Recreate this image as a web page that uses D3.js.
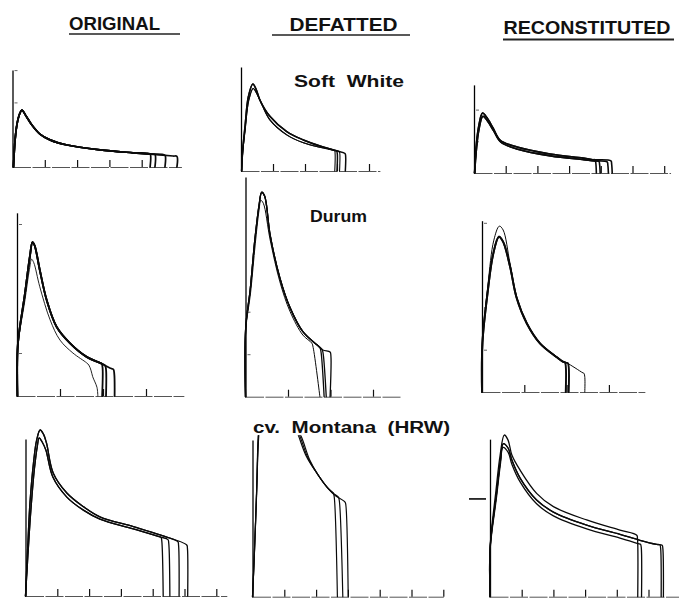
<!DOCTYPE html>
<html>
<head>
<meta charset="utf-8">
<script src="https://cdn.jsdelivr.net/npm/d3@7"></script>
<style>
  body { margin: 0; background: #fff; }
  svg { display: block; }
  text { font-family: "Liberation Sans", Arial, Helvetica, sans-serif; font-weight: bold; fill: #111; white-space: pre; }
</style>
</head>
<body>
<svg id="fig" width="679" height="598"></svg>
<script>
// column headers and flour classes
var columns = ["ORIGINAL", "DEFATTED", "RECONSTITUTED"]
var classes = ["Soft  White", "Durum", "cv.  Montana  (HRW)"]

// curves are [x, y] in grid units (1 unit = one tick division)
// drops are [x where the curve breaks, x where it reaches the baseline]

// Soft White
var swOrig = [[0.03,0],[0.08,0.84],[0.14,1.33],[0.22,1.64],[0.29,1.76],[0.42,1.58],[0.60,1.30],[0.85,1.02],
  [1.16,0.84],[1.69,0.68],[2.71,0.53],[3.73,0.44],[4.26,0.40],[4.97,0.34],[5.12,0.33]]
var swOrigDrops = [[4.26,4.26],[4.41,4.41],[4.72,4.72],[5.09,5.09]]

var swDefOuter = [[0.02,0],[0.05,0.6],[0.125,1.38],[0.23,2.32],[0.37,2.72],[0.47,2.56],[0.59,2.22],[0.91,1.70],
  [1.43,1.23],[1.95,0.97],[2.47,0.78],[2.98,0.63],[3.25,0.55],[3.3,0.54]]
var swDefInner = [[0.02,0],[0.05,0.55],[0.13,1.30],[0.24,2.2],[0.38,2.58],[0.5,2.41],[0.66,2.06],[0.91,1.59],
  [1.43,1.13],[1.95,0.88],[2.47,0.74],[2.98,0.63],[3.1,0.6]]
var swDefOuterDrops = [[2.99,3.0],[3.25,3.26]]
var swDefInnerDrops = [[2.92,2.93],[3.07,3.08]]

var swRecUpper = [[0.02,0],[0.06,0.73],[0.14,1.42],[0.27,1.89],[0.41,1.74],[0.6,1.42],[0.82,1.04],[1.36,0.82],
  [2.40,0.60],[3.44,0.47],[3.75,0.42],[4.35,0.38]]
var swRecLower = [[0.02,0],[0.07,0.68],[0.15,1.34],[0.28,1.79],[0.42,1.65],[0.62,1.33],[0.85,0.97],[1.38,0.75],
  [2.42,0.54],[3.46,0.42],[3.8,0.38],[4.35,0.34]]
var swRecUpperDrops = [[3.82,3.86],[4.32,4.36]]
var swRecLowerDrops = [[3.94,3.98],[4.20,4.24]]

// Durum
var duOrigThick = [[0.01,0],[0.02,1.2],[0.18,2.35],[0.30,3.25],[0.36,3.58],[0.41,3.5],[0.53,2.93],[0.69,2.23],
  [0.92,1.61],[1.23,1.23],[1.62,0.91],[1.93,0.77],[2.16,0.65],[2.3,0.6]]
var duOrigThin = [[0.01,0],[0.02,1.15],[0.18,2.2],[0.29,2.95],[0.34,3.18],[0.39,3.1],[0.53,2.54],[0.77,1.77],
  [1.0,1.30],[1.30,1.0],[1.62,0.77],[1.67,0.72],[1.72,0.6],[1.76,0.45],[1.86,0.2],[1.88,0]]
var duOrigThickDrops = [[1.97,1.98],[2.05,2.07],[2.24,2.27]]

var duDefA = [[0,0],[0.005,1.62],[0.11,2.51],[0.22,3.69],[0.32,4.51],[0.38,4.81],[0.45,4.72],[0.58,3.80],
  [0.81,2.79],[1.05,2.09],[1.35,1.53],[1.68,1.22],[1.82,1.10],[2.0,1.05]]
var duDefB = [[0,0],[0.005,1.55],[0.12,2.45],[0.23,3.6],[0.32,4.4],[0.36,4.62],[0.42,4.55],[0.58,3.69],
  [0.81,2.70],[1.05,2.0],[1.35,1.45],[1.56,1.26],[1.7,1.15]]
var duDefADrops = [[1.75,1.85],[1.80,1.90],[1.99,1.99]]
var duDefBDrops = [[1.56,1.75]]

var duRecOuter = [[0,0],[0.01,1.16],[0.14,2.53],[0.28,3.59],[0.41,3.92],[0.5,3.83],[0.66,3.05],[0.82,2.25],
  [1.06,1.63],[1.37,1.16],[1.77,0.83],[1.91,0.72],[2.0,0.69],[2.2,0.57],[2.39,0.45],[2.45,0.43]]
var duRecThick = [[0,0],[0.01,1.16],[0.14,2.41],[0.26,3.24],[0.40,3.67],[0.5,3.55],[0.66,2.98],[0.82,2.22],
  [1.06,1.62],[1.37,1.15],[1.77,0.82],[1.91,0.72],[2.0,0.69],[2.1,0.66]]
var duRecOuterDrops = [[2.41,2.43]]
var duRecThickDrops = [[1.96,1.98],[2.03,2.05]]

// cv. Montana (HRW)
var moOrigOuter = [[0,0],[0.1,2.2],[0.14,2.92],[0.25,4.17],[0.35,4.9],[0.46,5.22],[0.56,5.1],[0.66,4.81],
  [0.87,3.87],[1.30,3.24],[1.82,2.81],[2.34,2.49],[3.39,2.18],[4.23,1.92],[5.08,1.60],[5.15,1.58]]
var moOrigInner = [[0,0],[0.12,2.0],[0.18,2.85],[0.28,4.0],[0.37,4.7],[0.43,4.97],[0.52,4.85],[0.64,4.59],
  [0.86,3.74],[1.30,3.11],[1.82,2.70],[2.34,2.42],[3.39,2.11],[4.23,1.86],[4.86,1.64],[5.1,1.56]]
var moOrigInnerDrops = [[4.26,4.33],[4.48,4.54]]
var moOrigOuterDrops = [[4.79,4.83],[5.07,5.10]]

var moDefA = [[0,0],[0.05,1.15],[0.13,3.36],[0.18,5.05],[0.3,6.6],[0.45,7.1],[0.7,6.9],[1.1,6.0],[1.44,5.08],
  [1.70,4.40],[2.02,3.89],[2.33,3.46],[2.49,3.30],[2.6,3.2]]
var moDefB = [[0,0],[0.05,1.12],[0.13,3.3],[0.185,5.0],[0.31,6.5],[0.47,7.0],[0.72,6.8],[1.13,5.9],[1.49,5.05],
  [1.75,4.35],[2.05,3.85],[2.35,3.44],[2.55,3.25],[2.8,3.05]]
var moDefC = [[0,0],[0.05,1.1],[0.13,3.25],[0.19,4.95],[0.32,6.4],[0.48,6.9],[0.74,6.7],[1.16,5.8],[1.54,5.02],
  [1.80,4.3],[2.08,3.8],[2.38,3.40],[2.6,3.18],[2.95,2.95]]
var moDefADrops = [[2.54,2.67]]
var moDefBDrops = [[2.70,2.84]]
var moDefCDrops = [[2.91,3.01]]

var moRecA = [[0,0],[0.005,1.58],[0.19,3.36],[0.32,4.47],[0.45,5.10],[0.57,4.94],[0.69,4.47],[0.95,3.99],
  [1.47,3.26],[2.0,2.84],[3.05,2.42],[4.10,2.10],[4.63,1.94],[4.7,1.92]]
var moRecB = [[0,0],[0.005,1.55],[0.2,3.2],[0.33,4.3],[0.42,4.83],[0.57,4.69],[0.69,4.31],[0.95,3.74],
  [1.47,3.05],[2.0,2.67],[3.05,2.26],[4.10,1.97],[4.73,1.78],[5.26,1.65],[5.45,1.62]]
var moRecC = [[0,0],[0.005,1.5],[0.2,3.1],[0.33,4.2],[0.41,4.71],[0.57,4.56],[0.69,4.18],[0.95,3.62],
  [1.47,2.93],[2.0,2.55],[3.05,2.14],[4.10,1.85],[4.73,1.66],[5.26,1.53],[5.45,1.5]]
var moRecADrops = [[4.63,4.66]]
var moRecBDrops = [[5.36,5.40],[5.43,5.47]]
var moRecCDrops = [[4.75,4.78]]

// tick positions (grid units)
var ticks1to3 = [1, 2, 3]
var ticks1to4 = [1, 2, 3, 4]
var ticks1to6 = [1, 2, 3, 4, 5, 6]

// small chart frames: origin in page px, px per unit, extent in units
var panels = [
  {ox: 12.5, oy: 167, u: 32.3, xMax: 5.23, yMax: 3.0, xTicks: ticks1to4, yTicks: [2, 3],
   curves: [{pts: swOrig, drops: swOrigDrops, w: 1.7}]},
  {ox: 241, oy: 171, u: 32, xMax: 4.34, yMax: 3.25, xTicks: ticks1to4, yTicks: [],
   curves: [{pts: swDefOuter, drops: swDefOuterDrops, w: 1.5}, {pts: swDefInner, drops: swDefInnerDrops, w: 1.1}]},
  {ox: 474, oy: 173, u: 31.7, xMax: 6.2, yMax: 2.78, xTicks: ticks1to6, yTicks: [1, 2],
   curves: [{pts: swRecUpper, drops: swRecUpperDrops, w: 1.6}, {pts: swRecLower, drops: swRecLowerDrops, w: 1.6}]},

  {ox: 17, oy: 396, u: 43, xMax: 3.88, yMax: 4.26, xTicks: ticks1to3, yTicks: [1, 4],
   curves: [{pts: duOrigThick, drops: duOrigThickDrops, w: 1.8}, {pts: duOrigThin, w: 0.9}]},
  {ox: 245.5, oy: 396.7, u: 42.5, xMax: 3.64, yMax: 5.17, xTicks: ticks1to3, yTicks: [1, 2],
   curves: [{pts: duDefA, drops: duDefADrops, w: 1.3}, {pts: duDefB, drops: duDefBDrops, w: 1.0}]},
  {ox: 482, oy: 392, u: 42.3, xMax: 3.85, yMax: 4.05, xTicks: ticks1to3, yTicks: [1, 2, 4],
   curves: [{pts: duRecOuter, drops: duRecOuterDrops, w: 1.0}, {pts: duRecThick, drops: duRecThickDrops, w: 1.9}]},

  {ox: 25.5, oy: 596, u: 31.8, xMax: 6.33, yMax: 4.94, xTicks: ticks1to6, yTicks: [],
   curves: [{pts: moOrigOuter, drops: moOrigOuterDrops, w: 1.3}, {pts: moOrigInner, drops: moOrigInnerDrops, w: 1.3}]},
  {ox: 252.5, oy: 596.7, u: 31.8, xMax: 6.0, yMax: 4.93, xTicks: ticks1to6, yTicks: [], clipTop: 5.08,
   curves: [{pts: moDefA, drops: moDefADrops, w: 1.2}, {pts: moDefB, drops: moDefBDrops, w: 1.2},
            {pts: moDefC, drops: moDefCDrops, w: 1.2}]},
  {ox: 490, oy: 596.7, u: 31.7, xMax: 5.99, yMax: 4.97, xTicks: ticks1to6, yTicks: [], yTicksLeft: [3.1],
   curves: [{pts: moRecA, drops: moRecADrops, w: 1.3}, {pts: moRecB, drops: moRecBDrops, w: 1.3},
            {pts: moRecC, drops: moRecCDrops, w: 1.3}]}
]

var svg = d3.select("#fig")

// headers: [x, baseline, text width, underline x0, x1, underline y, underline width]
var headerPos = [[69, 30, 91, 69, 180, 34, 1.3], [289.5, 31, 108, 272, 410, 35, 1.3], [503.5, 34, 167, 503, 674, 39.5, 2]]
columns.forEach(function(c, i) {
  var h = headerPos[i]
  svg.append("text").attr("x", h[0]).attr("y", h[1]).attr("font-size", 18)
     .attr("textLength", h[2]).attr("lengthAdjust", "spacingAndGlyphs").text(c)
  svg.append("line").attr("x1", h[3]).attr("x2", h[4]).attr("y1", h[5]).attr("y2", h[5])
     .attr("stroke", "#222").attr("stroke-width", h[6])
})

var classPos = [[294, 87, 110, 17], [310, 222, 57, 17], [253, 433, 197, 16]]
classes.forEach(function(c, i) {
  var t = classPos[i]
  svg.append("text").attr("x", t[0]).attr("y", t[1]).attr("font-size", t[3])
     .attr("textLength", t[2]).attr("lengthAdjust", "spacingAndGlyphs").text(c)
})

function cutAt(pts, xt) {
  var out = []
  for (var i = 0; i < pts.length; i++) {
    if (pts[i][0] < xt || i == 0) { out.push(pts[i]); continue }
    var a = pts[i-1], b = pts[i]
    var t = (xt - a[0]) / (b[0] - a[0])
    out.push([xt, a[1] + t * (b[1] - a[1])])
    break
  }
  return out
}

function dropPath(pts, drop) {
  var p = cutAt(pts, drop[0])
  var top = p[p.length-1]
  p.push([top[0] + 0.02 + (drop[1] - drop[0]) * 0.06, top[1] - 0.1])
  p.push([drop[1], 0])
  return p
}

panels.forEach(function(p, i) {
  var g = svg.append("g").attr("class", "panel panel-" + i)
  var x = d3.scaleLinear().domain([0, p.xMax]).range([p.ox, p.ox + p.xMax * p.u])
  var y = d3.scaleLinear().domain([0, p.yMax]).range([p.oy, p.oy - p.yMax * p.u])

  // baseline with upward ticks
  var xa = g.append("g").attr("transform", "translate(0," + p.oy + ")")
            .call(d3.axisBottom(x).tickValues(p.xTicks).tickSizeInner(-7).tickSizeOuter(0).tickFormat(""))
  xa.select(".domain").attr("stroke", "#555").attr("stroke-width", 1).attr("stroke-dasharray", "18,1.5")
  xa.selectAll(".tick line").attr("stroke", "#111").attr("stroke-width", 1.2)

  // vertical axis with small marks
  var ya = g.append("g").attr("transform", "translate(" + p.ox + ",0)")
            .call(d3.axisRight(y).tickValues(p.yTicks).tickSizeInner(3).tickSizeOuter(0).tickFormat(""))
  ya.select(".domain").attr("stroke", "#000").attr("stroke-width", 1.3)
  ya.selectAll(".tick line").attr("stroke", "#666").attr("stroke-width", 1).attr("transform", "translate(2,0)")
  if (p.yTicksLeft) {
    var yl = g.append("g").attr("transform", "translate(" + (p.ox - 4) + ",0)")
              .call(d3.axisLeft(y).tickValues(p.yTicksLeft).tickSizeInner(17).tickSizeOuter(0).tickFormat(""))
    yl.select(".domain").remove()
    yl.selectAll(".tick line").attr("stroke", "#222").attr("stroke-width", 1.8)
  }

  var cg = g.append("g")
  if (p.clipTop) {
    svg.append("clipPath").attr("id", "clip" + i).append("rect")
       .attr("x", 0).attr("width", 679).attr("y", y(p.clipTop)).attr("height", p.oy - y(p.clipTop) + 2)
    cg.attr("clip-path", "url(#clip" + i + ")")
  }

  var line = d3.line().x(function(d) { return x(d[0]) }).y(function(d) { return y(d[1]) })
               .curve(d3.curveCatmullRom.alpha(0.5))

  p.curves.forEach(function(c) {
    var paths = c.drops ? c.drops.map(function(d) { return dropPath(c.pts, d) }) : [c.pts]
    paths.forEach(function(pts) {
      cg.append("path").attr("d", line(pts)).attr("fill", "none").attr("stroke", "#0a0a0a")
        .attr("stroke-width", c.w).attr("stroke-linejoin", "round").attr("stroke-linecap", "round")
    })
  })
})
</script>
</body>
</html>
